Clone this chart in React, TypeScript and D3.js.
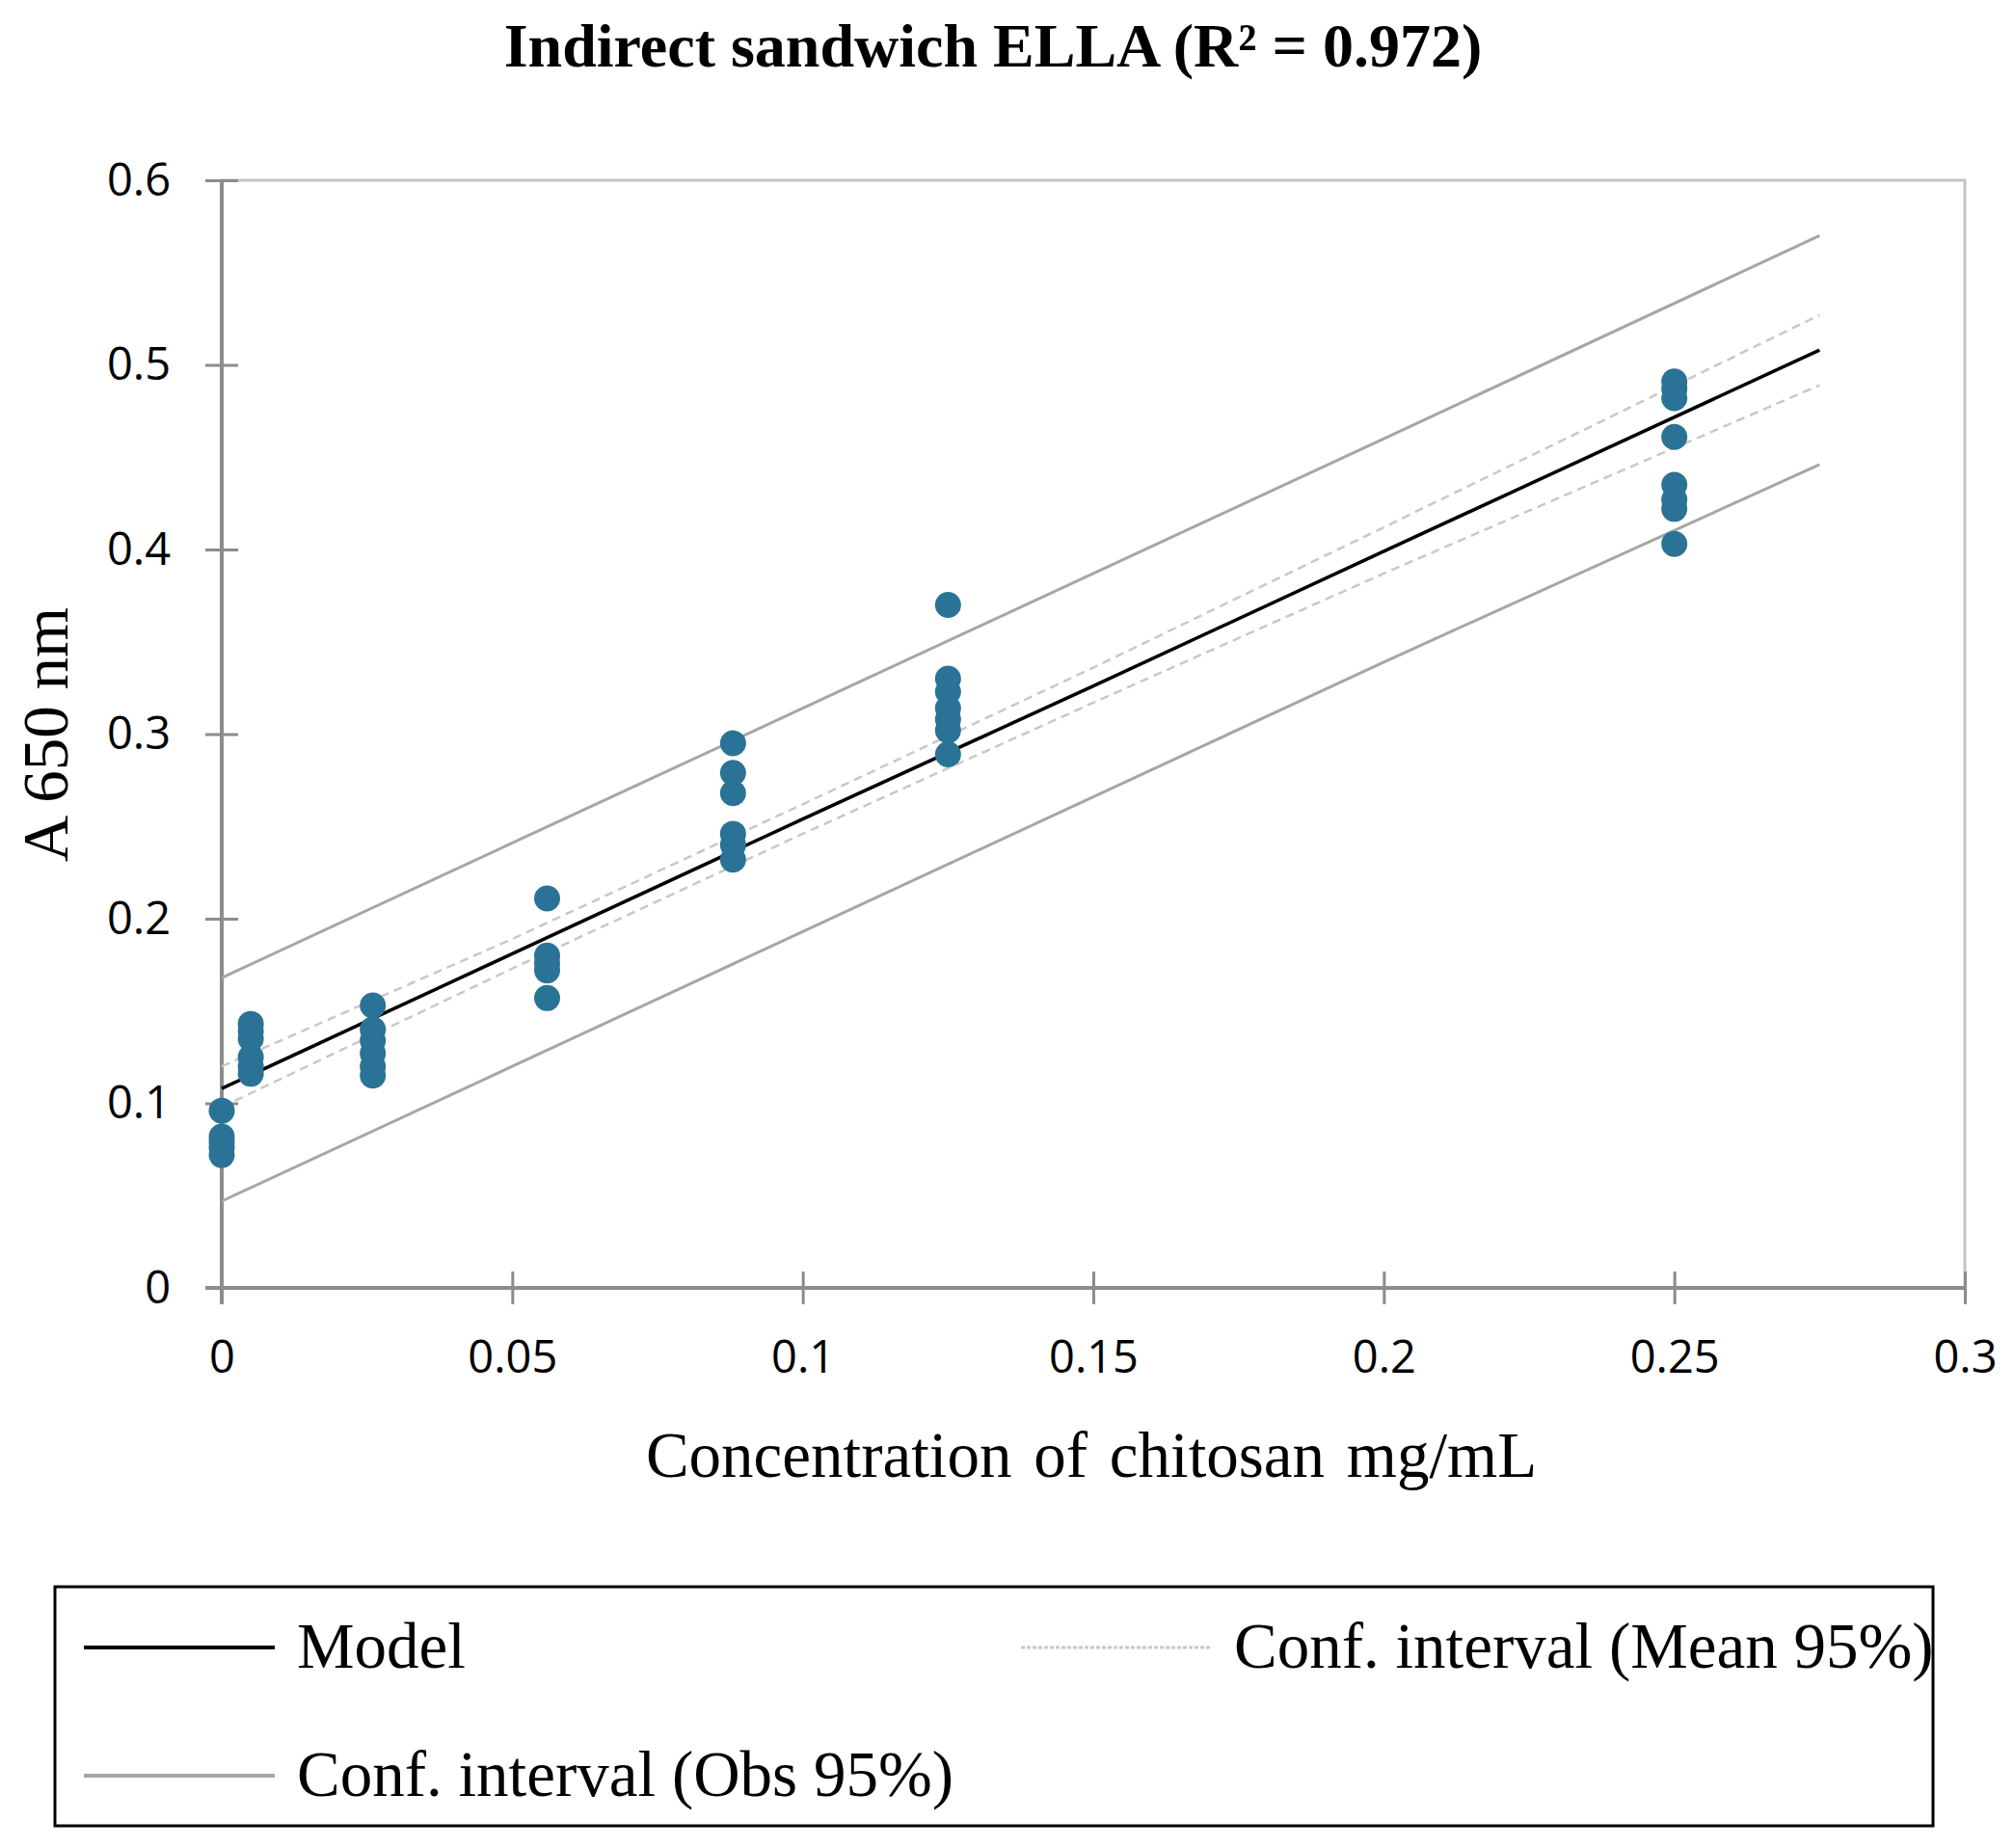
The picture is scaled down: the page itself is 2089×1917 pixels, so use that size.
import * as d3 from "d3";
import { useRef, useEffect } from "react";

// tick values + labels
const xTicks = [0, 0.05, 0.1, 0.15, 0.2, 0.25, 0.3];
const xTickLabels = ["0", "0.05", "0.1", "0.15", "0.2", "0.25", "0.3"];
const yTicks = [0, 0.1, 0.2, 0.3, 0.4, 0.5, 0.6];
const yTickLabels = ["0", "0.1", "0.2", "0.3", "0.4", "0.5", "0.6"];

// replicate readings at each concentration
const concentrations = [0, 0.005, 0.026, 0.056, 0.088, 0.125, 0.25];
const absorbances = [
  [0.096, 0.082, 0.079, 0.076, 0.072],
  [0.143, 0.139, 0.135, 0.125, 0.12, 0.116],
  [0.153, 0.14, 0.134, 0.127, 0.12, 0.115],
  [0.211, 0.18, 0.176, 0.172, 0.157],
  [0.295, 0.279, 0.268, 0.246, 0.24, 0.232],
  [0.37, 0.33, 0.323, 0.314, 0.308, 0.302, 0.289],
  [0.491, 0.487, 0.482, 0.461, 0.435, 0.427, 0.422, 0.403],
];

// regression + confidence bands
const fitX = [0, 0.05, 0.1, 0.15, 0.2, 0.275];
const model = [0.108, 0.181, 0.254, 0.326, 0.399, 0.508];
const meanUpper = [0.12, 0.189, 0.262, 0.336, 0.412, 0.527];
const meanLower = [0.098, 0.173, 0.246, 0.317, 0.387, 0.489];
const obsUpper = [0.168, 0.241, 0.314, 0.387, 0.46, 0.57];
const obsLower = [0.047, 0.12, 0.193, 0.266, 0.339, 0.446];

const width = 2089;
const height = 1917;
const marginLeft = 230;
const marginRight = 51;
const marginTop = 187;
const plotBottom = 1336;

const serif = "'Liberation Serif', 'Times New Roman', serif";
const sans = "'Open Sans', 'DejaVu Sans', sans-serif";

export default function App() {
  const svgRef = useRef<SVGSVGElement | null>(null);

  useEffect(() => {
    if (!svgRef.current) return;
    const svg = d3.select(svgRef.current);
    svg.selectAll("*").remove();

    const x = d3.scaleLinear().domain([0, 0.3]).range([marginLeft, width - marginRight]);
    const y = d3.scaleLinear().domain([0, 0.6]).range([plotBottom, marginTop]);

    svg.append("rect").attr("width", width).attr("height", height).attr("fill", "#fff");

    // title
    svg
      .append("text")
      .attr("x", 1030)
      .attr("y", 69)
      .attr("text-anchor", "middle")
      .attr("font-family", serif)
      .attr("font-weight", "bold")
      .attr("font-size", 64)
      .text("Indirect sandwich ELLA (R² = 0.972)");

    // plot frame (top / right)
    svg
      .append("rect")
      .attr("x", x(0))
      .attr("y", y(0.6))
      .attr("width", x(0.3) - x(0))
      .attr("height", y(0) - y(0.6))
      .attr("fill", "none")
      .attr("stroke", "#c4c4c4")
      .attr("stroke-width", 3);

    // y axis
    const yAxis = svg
      .append("g")
      .attr("transform", `translate(${x(0)},0)`)
      .call(
        d3
          .axisLeft(y)
          .tickValues(yTicks)
          .tickFormat((_, i) => yTickLabels[i])
          .tickSize(17)
          .tickPadding(36)
      );
    yAxis.select(".domain").remove();
    yAxis.selectAll("line").attr("x1", 17).attr("x2", -17).attr("stroke", "#8c8c8c").attr("stroke-width", 3);
    yAxis.selectAll("text").attr("font-family", sans).attr("font-size", 47).attr("fill", "#000");
    svg
      .append("line")
      .attr("x1", x(0))
      .attr("x2", x(0))
      .attr("y1", y(0.6))
      .attr("y2", y(0) + 17)
      .attr("stroke", "#8c8c8c")
      .attr("stroke-width", 4);

    // x axis
    const xAxis = svg
      .append("g")
      .attr("transform", `translate(0,${y(0)})`)
      .call(
        d3
          .axisBottom(x)
          .tickValues(xTicks)
          .tickFormat((_, i) => xTickLabels[i])
          .tickSize(17)
          .tickPadding(38)
      );
    xAxis.select(".domain").remove();
    xAxis.selectAll("line").attr("y1", -17).attr("y2", 17).attr("stroke", "#8c8c8c").attr("stroke-width", 3);
    xAxis.selectAll("text").attr("font-family", sans).attr("font-size", 47).attr("fill", "#000");
    svg
      .append("line")
      .attr("x1", x(0) - 17)
      .attr("x2", x(0.3))
      .attr("y1", y(0))
      .attr("y2", y(0))
      .attr("stroke", "#8c8c8c")
      .attr("stroke-width", 4);

    // axis titles
    svg
      .append("text")
      .attr("x", 1132)
      .attr("y", 1532)
      .attr("text-anchor", "middle")
      .attr("font-family", serif)
      .attr("font-size", 67)
      .attr("word-spacing", 6)
      .text("Concentration of chitosan mg/mL");

    svg
      .append("text")
      .attr("transform", `translate(70,762) rotate(-90)`)
      .attr("text-anchor", "middle")
      .attr("font-family", serif)
      .attr("font-size", 67)
      .text("A 650 nm");

    // lines
    const line = d3
      .line<number>()
      .x((_, i) => x(fitX[i]))
      .y((d) => y(d));

    const drawLine = (vals: number[], color: string, w: number, dash?: string) => {
      const p = svg
        .append("path")
        .datum(vals)
        .attr("fill", "none")
        .attr("stroke", color)
        .attr("stroke-width", w)
        .attr("d", line);
      if (dash) p.attr("stroke-dasharray", dash);
    };

    drawLine(obsUpper, "#a6a6a6", 3);
    drawLine(obsLower, "#a6a6a6", 3);
    drawLine(meanUpper, "#c8c8c8", 2.5, "9 6");
    drawLine(meanLower, "#c8c8c8", 2.5, "9 6");
    drawLine(model, "#000", 3.5);

    // points
    const pts = concentrations.flatMap((c, i) => absorbances[i].map((v) => ({ c, v })));
    svg
      .append("g")
      .selectAll("circle")
      .data(pts)
      .join("circle")
      .attr("cx", (d) => x(d.c))
      .attr("cy", (d) => y(d.v))
      .attr("r", 13.5)
      .attr("fill", "#2b7396");

    // legend
    svg
      .append("rect")
      .attr("x", 57)
      .attr("y", 1646)
      .attr("width", 1948)
      .attr("height", 248)
      .attr("fill", "none")
      .attr("stroke", "#000")
      .attr("stroke-width", 3);

    const legendItems = [
      { label: "Model", color: "#000", w: 4, dash: "", lx: 87, ly: 1709 },
      { label: "Conf. interval (Mean 95%)", color: "#c8c8c8", w: 3, dash: "4 2", lx: 1059, ly: 1709 },
      { label: "Conf. interval (Obs 95%)", color: "#a6a6a6", w: 4, dash: "", lx: 87, ly: 1842 },
    ];
    legendItems.forEach((it) => {
      const l = svg
        .append("line")
        .attr("x1", it.lx)
        .attr("x2", it.lx + 198)
        .attr("y1", it.ly)
        .attr("y2", it.ly)
        .attr("stroke", it.color)
        .attr("stroke-width", it.w);
      if (it.dash) l.attr("stroke-dasharray", it.dash);
      svg
        .append("text")
        .attr("x", it.lx + 221)
        .attr("y", it.ly + 21)
        .attr("font-family", serif)
        .attr("font-size", 67)
        .text(it.label);
    });
  }, []);

  return (
    <svg
      ref={svgRef}
      width={width}
      height={height}
      style={{ position: "absolute", left: 0, top: 0, display: "block" }}
    />
  );
}
